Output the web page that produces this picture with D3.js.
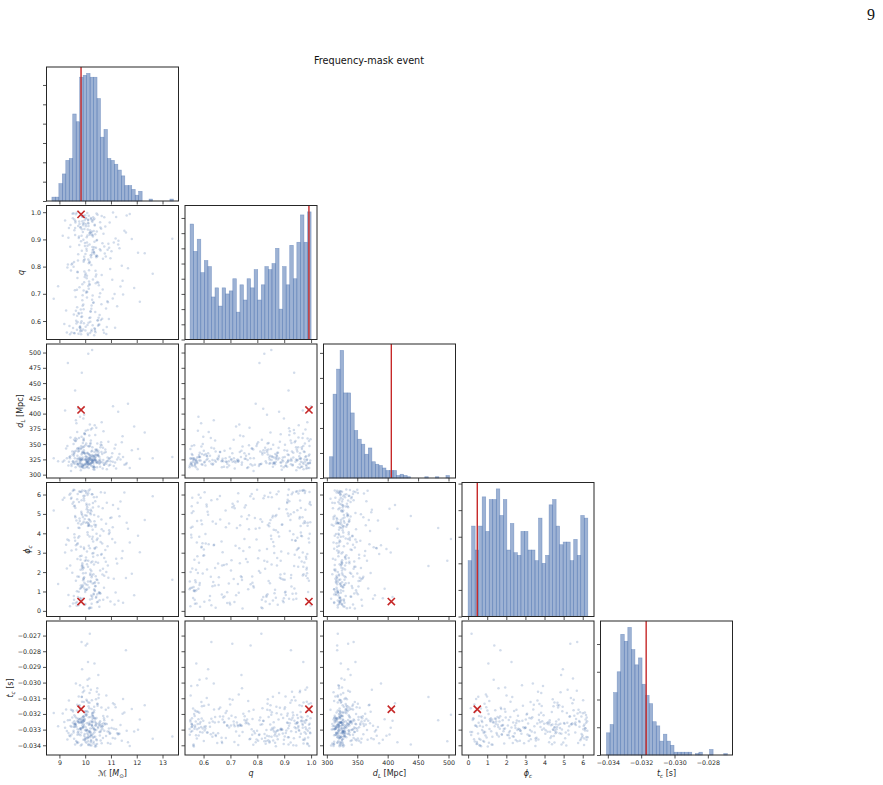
<!DOCTYPE html>
<html><head><meta charset="utf-8">
<script src="https://cdn.jsdelivr.net/npm/d3@7/dist/d3.min.js"></script>
<style>body{margin:0;background:#fff}</style>
</head><body>
<svg id="c" width="883" height="785"></svg>
<script>
// ---------------- DATA ----------------
const paramNames = ["Mc", "q", "dL", "phi", "tc"];
const truthValues = [9.84, 0.992, 406, 0.48, -0.0317];

// histogram counts
const mcCounts  = [2,2,9,14,21,22,45,41,64,65,66,64,64,53,33,37,22,21,19,16,13,8,8,6,3,5,0,0,1,0,0,0,0,0,1];
const qCounts   = [38,29,33,22,26,24,14,17,11,17,15,16,20,9,18,13,20,17,23,13,18,24,23,25,30,10,24,18,31,20,32,41,32,42];
const dlCounts  = [17,67,87,102,68,68,52,38,31,27,19,24,13,11,10,8,6,6,6,2,3,2,1,0,0,0,0,1,0,0,1,0,0,2];
const phiCounts = [21,34,25,34,45,32,44,44,48,38,44,25,35,24,23,32,32,25,25,21,37,20,23,42,44,34,27,28,28,21,29,23,38,37];
const tcCounts  = [16,22,45,60,87,82,92,76,65,70,51,43,37,24,21,10,15,10,7,2,2,2,2,2,0,1,2,0,0,4,0,0,0,1];
// [first bin edge, bin width]
const mcBins  = [8.71, 0.1346];
const qBins   = [0.55, 0.013235];
const dlBins  = [304.4, 5.8];
const phiBins = [0.0, 0.18426];
const tcBins  = [-0.03408, 0.0002132];

// posterior samples (estimated from the scatter panels)
const mcS = [
10.12,9.87,10.45,9.63,10.28,11.05,9.94,10.61,9.42,10.19,
10.33,9.78,10.02,10.87,9.55,10.24,11.42,9.91,10.38,9.71,
10.07,10.52,9.83,9.29,10.16,10.74,9.98,10.31,11.18,9.66,
10.41,9.89,10.09,12.05,9.74,10.22,10.58,9.51,10.35,9.96,
9.13,10.27,10.93,9.82,10.04,10.47,9.69,11.29,10.14,9.92,
10.36,9.58,10.68,10.01,9.86,11.61,10.25,9.77,10.43,9.35,
10.11,10.82,9.95,10.29,9.61,10.55,10.06,9.89,11.08,10.39,
9.47,10.18,9.81,10.64,10.32,8.78,9.99,10.49,9.73,10.21,
11.37,9.9,10.13,10.57,9.64,10.26,9.84,10.97,10.03,9.57,
10.44,9.79,10.15,11.73,9.93,10.34,10.71,9.68,10.08,9.22,
10.23,9.85,10.62,9.97,10.4,9.52,11.14,10.17,9.76,10.3,
9.88,10.51,10.05,9.39,10.37,10.86,9.94,10.2,11.52,9.7,
10.1,10.46,9.6,10.28,9.83,12.31,10.0,10.66,9.45,10.19,
10.35,9.92,10.78,10.12,9.67,11.24,10.42,9.8,10.06,9.31,
10.56,9.96,10.24,9.74,10.9,10.14,9.58,10.33,11.02,9.87,
10.02,10.48,9.19,10.27,9.9,10.69,10.38,9.62,11.45,10.09,
9.81,10.21,10.6,9.53,10.31,9.98,11.81,10.16,9.72,10.44,
10.07,9.86,10.73,10.25,9.43,10.53,9.95,11.11,10.36,9.69,
10.18,9.77,10.04,10.84,9.91,10.29,9.56,10.64,12.62,10.11,
9.84,10.41,10.13,9.65,10.98,10.22,9.89,11.33,10.01,9.37,
10.3,9.75,10.5,10.08,9.94,10.76,9.26,10.19,11.66,9.82,
10.26,10.63,9.99,9.59,10.39,10.15,11.2,9.88,10.47,10.03,
9.71,10.34,8.95,10.11,10.81,9.93,10.24,9.5,10.58,11.47,
10.17,9.8,10.43,10.06,9.64,10.92,10.28,9.97,11.07,10.12,
9.41,10.37,10.0,10.67,9.86,10.23,11.9,9.73,10.52,10.09,
10.32,9.9,10.14,9.55,10.7,10.45,9.96,11.28,10.2,9.78,
10.05,10.59,9.83,10.27,9.62,10.88,10.16,9.47,13.38,10.4,
9.92,10.21,10.74,9.68,10.1,11.16,10.35,9.85,10.55,9.33,
10.29,9.76,10.07,10.95,9.94,10.42,9.57,11.58,10.18,10.02,
9.87,10.48,10.13,9.7,10.36,12.12,9.98,10.25,10.8,9.61];
const qS = [
0.972,0.563,0.841,0.688,0.915,0.752,0.987,0.604,0.873,0.556,
0.931,0.724,0.579,0.862,0.996,0.645,0.803,0.958,0.571,0.779,
0.889,0.612,0.945,0.558,0.736,0.981,0.827,0.667,0.903,0.591,
0.764,0.967,0.585,0.851,0.629,0.924,0.702,0.994,0.548,0.836,
0.913,0.678,0.869,0.566,0.977,0.743,0.619,0.895,0.812,0.952,
0.573,0.934,0.716,0.846,0.599,0.988,0.657,0.879,0.771,0.906,
0.961,0.552,0.823,0.694,0.942,0.587,0.858,0.735,0.999,0.633,
0.808,0.917,0.561,0.769,0.972,0.682,0.887,0.603,0.949,0.842,
0.727,0.983,0.594,0.864,0.638,0.928,0.551,0.791,0.956,0.817,
0.896,0.576,0.745,0.993,0.661,0.853,0.921,0.568,0.707,0.969,
0.834,0.615,0.939,0.782,0.559,0.978,0.699,0.881,0.627,0.911,
0.984,0.741,0.866,0.582,0.954,0.673,0.818,0.597,0.932,0.758,
0.554,0.898,0.713,0.965,0.642,0.849,0.989,0.608,0.786,0.926,
0.871,0.569,0.947,0.729,0.998,0.654,0.839,0.581,0.908,0.797,
0.622,0.959,0.806,0.553,0.884,0.719,0.973,0.668,0.856,0.937,
0.775,0.991,0.589,0.918,0.695,0.829,0.564,0.962,0.748,0.877,
0.944,0.636,0.859,0.574,0.981,0.762,0.901,0.611,0.822,0.995,
0.686,0.913,0.557,0.844,0.953,0.731,0.592,0.889,0.976,0.651,
0.815,0.966,0.704,0.578,0.927,0.861,0.624,0.986,0.774,0.549,
0.893,0.739,0.958,0.601,0.831,0.979,0.676,0.867,0.565,0.942,
0.753,0.905,0.583,0.997,0.712,0.848,0.639,0.934,0.794,0.572,
0.969,0.662,0.876,0.555,0.919,0.787,0.982,0.617,0.838,0.948,
0.596,0.854,0.728,0.971,0.646,0.899,0.562,0.811,0.963,0.697,
0.923,0.577,0.834,0.757,0.992,0.607,0.872,0.938,0.683,0.826,
0.551,0.951,0.769,0.886,0.629,0.975,0.721,0.845,0.586,0.914,
0.863,0.656,0.987,0.799,0.567,0.929,0.742,0.881,0.613,0.957,
0.708,0.944,0.593,0.852,0.968,0.669,0.819,0.558,0.902,0.785,
0.985,0.634,0.874,0.715,0.936,0.575,0.847,0.994,0.688,0.808,
0.584,0.911,0.766,0.962,0.643,0.869,0.556,0.925,0.733,0.979,
0.858,0.602,0.949,0.781,0.891,0.671,0.97,0.568,0.837,0.916];
const dlS = [
318,326,341,312,324,335,359,321,330,347,
315,323,372,328,319,338,353,311,325,343,
320,331,307,327,364,316,336,322,349,384,
324,313,329,342,318,356,325,333,312,398,
321,339,326,314,351,320,370,328,317,345,
323,336,310,325,362,319,331,344,377,315,
326,318,340,322,355,329,313,337,412,324,
317,332,321,348,309,327,366,320,338,352,
325,314,334,319,389,323,342,316,330,357,
322,328,346,311,337,324,371,318,335,405,
319,326,353,315,332,321,343,327,360,313,
324,339,317,329,381,322,336,350,316,331,
320,312,327,345,323,369,318,334,306,326,
328,316,341,321,358,325,333,395,319,347,
322,335,314,326,354,320,338,312,329,467,
317,331,323,376,315,344,327,321,363,336,
325,318,349,322,330,311,340,324,408,319,
321,333,316,328,361,323,346,314,337,326,
318,342,325,309,352,320,331,386,327,315,
324,329,317,339,322,374,313,334,348,321,
326,314,332,323,357,319,343,328,416,312,
320,337,325,318,365,327,310,335,351,323,
316,330,322,347,321,392,324,338,313,329,
323,319,340,326,355,315,332,368,321,498,
327,312,334,320,344,325,379,318,336,322,
319,328,311,350,324,338,316,403,330,326,
321,345,317,504,360,323,333,314,329,341,
325,316,336,322,373,320,331,347,318,483,
323,339,312,327,356,321,334,317,382,329,
318,332,324,343,308,326,367,320,337,438];
const phiS = [
4.52,1.23,5.87,0.41,2.96,3.71,1.68,6.12,2.34,5.05,
0.88,4.27,1.95,3.33,5.61,0.16,2.71,4.84,1.47,6.03,
3.06,5.38,0.63,2.19,4.41,1.81,5.94,3.58,0.95,4.66,
2.52,6.21,1.34,3.87,0.29,4.98,2.08,5.52,1.12,3.19,
5.73,0.74,4.16,2.63,6.08,1.59,3.44,0.52,4.73,2.27,
1.06,3.95,5.29,0.35,2.84,4.55,1.73,6.15,3.28,0.82,
4.38,2.01,5.81,1.41,3.62,0.21,4.91,2.46,5.46,1.27,
3.11,6.26,0.67,4.21,1.89,5.17,2.58,0.47,3.77,1.54,
5.64,2.13,4.47,0.91,3.39,6.02,1.18,4.79,2.75,0.58,
1.62,4.63,0.12,3.52,5.93,2.39,4.12,1.01,5.35,3.01,
0.79,5.11,2.89,1.45,4.34,6.18,0.33,3.83,1.76,5.56,
2.22,4.87,1.09,5.99,3.24,0.69,4.59,1.93,6.11,2.67,
3.92,0.44,5.42,2.55,1.31,4.69,0.97,3.47,5.78,1.85,
4.95,1.58,3.14,6.07,0.26,2.44,4.43,1.14,5.24,3.68,
0.55,5.69,2.05,4.29,1.71,3.36,6.23,0.84,4.81,2.31,
1.37,3.73,5.84,0.62,4.51,2.17,1.03,5.31,3.09,4.06,
6.14,1.49,3.55,0.38,2.79,4.74,1.91,5.49,0.71,3.98,
2.41,5.02,1.19,4.36,6.05,0.93,3.27,1.66,4.62,5.76,
0.18,3.85,2.61,5.58,1.26,4.18,0.77,2.93,5.91,1.52,
4.46,1.79,6.19,3.17,0.48,5.21,2.36,4.88,1.07,3.63,
5.33,0.99,2.48,4.57,1.64,6.09,3.41,0.59,4.24,2.12,
1.83,4.71,0.31,3.79,5.65,1.21,2.69,4.96,0.86,6.17,
3.49,5.86,1.39,2.27,4.49,0.65,5.14,1.97,3.88,0.42,
4.68,2.82,0.73,5.45,1.55,3.97,6.01,1.16,4.31,2.58,
0.24,3.21,4.93,1.87,5.71,2.49,0.81,4.52,1.44,5.97,
2.99,1.33,4.39,6.24,0.57,3.66,1.74,5.27,2.14,4.77,
5.53,0.89,3.31,3.71,4.83,2.34,0.14,5.83,1.61,1.28,
1.94,4.61,2.73,0.46,5.08,3.53,1.42,6.13,0.96,4.27,
3.82,5.62,1.11,4.04,2.21,0.68,5.39,1.69,3.23,4.54,
0.53,2.87,5.19,1.77,4.44,3.02,6.2,0.37,2.53,4.89];
const tcS = [
-0.03127,-0.03395,-0.03368,-0.03276,-0.03291,-0.03238,-0.03215,-0.03305,-0.03342,-0.03263,
-0.03224,-0.03255,-0.03186,-0.03312,-0.03318,-0.03334,-0.03371,-0.03061,-0.03249,-0.03297,
-0.03203,-0.03099,-0.03401,-0.03309,-0.03267,-0.03241,-0.03328,-0.03352,-0.03158,-0.03284,
-0.03258,-0.03222,-0.02982,-0.03301,-0.03231,-0.03382,-0.03273,-0.03176,-0.03296,-0.03339,
-0.03197,-0.03252,-0.03313,-0.03294,-0.03356,-0.03036,-0.03142,-0.03325,-0.03269,-0.03287,
-0.02878,-0.03209,-0.03279,-0.03376,-0.03244,-0.03307,-0.03168,-0.03236,-0.03362,-0.03322,
-0.03188,-0.03083,-0.03245,-0.03229,-0.03261,-0.03316,-0.03299,-0.03274,-0.03132,-0.03345,
-0.03331,-0.03348,-0.03166,-0.03266,-0.03389,-0.03194,-0.03303,-0.03282,-0.03253,-0.03219,
-0.03271,-0.03239,-0.03151,-0.03337,-0.03005,-0.03112,-0.03248,-0.03323,-0.03308,-0.03359,
-0.03226,-0.03298,-0.03315,-0.03404,-0.03217,-0.03346,-0.03259,-0.03178,-0.02752,-0.03288,
-0.03372,-0.03319,-0.03285,-0.03233,-0.03272,-0.03256,-0.03139,-0.03067,-0.03329,-0.03212,
-0.03122,-0.02951,-0.03384,-0.03338,-0.03302,-0.03216,-0.03265,-0.03293,-0.03191,-0.03247,
-0.03022,-0.03392,-0.03268,-0.03242,-0.03254,-0.03144,-0.03351,-0.03279,-0.03173,-0.03311,
-0.03154,-0.03283,-0.03261,-0.03398,-0.03228,-0.03324,-0.03106,-0.03234,-0.03306,-0.03363,
-0.03257,-0.03052,-0.03335,-0.03314,-0.03161,-0.03221,-0.03246,-0.03377,-0.03289,-0.03092,
-0.02763,-0.03137,-0.03251,-0.03275,-0.03286,-0.03354,-0.03408,-0.03218,-0.03199,-0.03304,
-0.03292,-0.03321,-0.03369,-0.03184,-0.03327,-0.03235,-0.03169,-0.02974,-0.03243,-0.03262,
-0.03181,-0.03258,-0.03227,-0.03343,-0.03277,-0.03076,-0.03124,-0.03295,-0.03317,-0.03386,
-0.02688,-0.03149,-0.03211,-0.03264,-0.03237,-0.03253,-0.03281,-0.03387,-0.03358,-0.03333,
-0.03301,-0.03274,-0.03347,-0.03373,-0.03391,-0.03045,-0.03255,-0.03326,-0.03201,-0.03115,
-0.03214,-0.03088,-0.03289,-0.03323,-0.03249,-0.03267,-0.03171,-0.03399,-0.03381,-0.03336,
-0.03271,-0.03159,-0.03361,-0.03284,-0.03232,-0.03311,-0.03297,-0.02915,-0.03135,-0.03206,
-0.03319,-0.03189,-0.03278,-0.02869,-0.03341,-0.03365,-0.03402,-0.03222,-0.03246,-0.03104,
-0.03128,-0.03017,-0.03302,-0.03259,-0.03269,-0.03293,-0.03196,-0.03244,-0.03353,-0.03375,
-0.03239,-0.03226,-0.03183,-0.03296,-0.02741,-0.03366,-0.03312,-0.03383,-0.03262,-0.03349,
-0.03287,-0.03251,-0.03394,-0.03307,-0.03213,-0.03058,-0.03276,-0.03331,-0.03318,-0.03145,
-0.03109,-0.03315,-0.03229,-0.03205,-0.03263,-0.03385,-0.03164,-0.03282,-0.03344,-0.03397,
-0.03031,-0.03248,-0.03308,-0.03379,-0.03355,-0.03357,-0.03177,-0.03291,-0.03272,-0.03241,
-0.03192,-0.03254,-0.03118,-0.03326,-0.03219,-0.03406,-0.03266,-0.02794,-0.03339,-0.03285,
-0.03091,-0.03147,-0.03257,-0.03332,-0.03299,-0.03235,-0.03364,-0.03273,-0.03174,-0.03395];

// tick values
const xTickVals = [[9,10,11,12,13],[0.6,0.7,0.8,0.9,1.0],[300,350,400,450,500],[0,1,2,3,4,5,6],[-0.034,-0.032,-0.030,-0.028]];
const yTickVals = [null,[0.6,0.7,0.8,0.9,1.0],[300,325,350,375,400,425,450,475,500],[0,1,2,3,4,5,6],[-0.034,-0.033,-0.032,-0.031,-0.030,-0.029,-0.028,-0.027]];
const histTickStep = [10,5,20,10,20];
const titleText = "Frequency-mask event";
const pageNumber = "9";

// ---------------- LAYOUT ----------------
const samples = [mcS, qS, dlS, phiS, tcS];
const counts = [mcCounts, qCounts, dlCounts, phiCounts, tcCounts];
const bins = [mcBins, qBins, dlBins, phiBins, tcBins];
const xDom = [[8.5,13.62],[0.531,1.022],[294.5,511.5],[-0.32,6.59],[-0.03444,-0.02652]];
const yDom = [null,[0.532,1.0246],[294.5,514],[-0.29,6.62],[-0.03462,-0.02607]];
const fmts = [d3.format("d"), d3.format(".1f"), d3.format("d"), d3.format("d"), d3.format(".3f")];
const yLabelX = [0, 24, 23, 30, 13];

const L0 = 46.5, T0 = 67, STEP = 138.5, PW = 132, PH = 134;
const FONT = "DejaVu Sans";
const BLUE = "#4c72b0", RED = "#c62828", INK = "#262626";

const svg = d3.select("#c");
svg.append("rect").attr("width",883).attr("height",785).attr("fill","#fff");

const xs = xDom.map((d,k) => d3.scaleLinear().domain(d).range([L0+k*STEP, L0+k*STEP+PW]));
const ys = yDom.map((d,k) => d ? d3.scaleLinear().domain(d).range([T0+k*STEP+PH, T0+k*STEP]) : null);

function styleAxis(g, showLabels) {
  g.select(".domain").remove();
  g.selectAll(".tick line").attr("stroke", INK).attr("stroke-width", 0.8);
  g.selectAll(".tick text").attr("fill", INK).style("font-family", FONT).style("font-size", "6.3px");
  if (!showLabels) g.selectAll(".tick text").remove();
}

function frame(i, j) {
  svg.append("rect").attr("x", L0+j*STEP).attr("y", T0+i*STEP).attr("width", PW).attr("height", PH)
    .attr("fill","none").attr("stroke", INK).attr("stroke-width", 1);
}

function xAxis(i, j) {
  const g = svg.append("g").attr("transform", `translate(0,${T0+i*STEP+PH})`)
    .call(d3.axisBottom(xs[j]).tickValues(xTickVals[j]).tickFormat(fmts[j]).tickSize(3.5).tickPadding(2));
  styleAxis(g, i === 4);
}

function yAxisScatter(i, j) {
  const g = svg.append("g").attr("transform", `translate(${L0+j*STEP},0)`)
    .call(d3.axisLeft(ys[i]).tickValues(yTickVals[i]).tickFormat(fmts[i]).tickSize(3.5).tickPadding(2));
  styleAxis(g, j === 0);
}

// label builder for math-like text
const labelParts = [
  [{t:"ℳ"},{t:" ["},{t:"M",i:1},{t:"⊙",sub:1},{t:"]"}],
  [{t:"q",i:1}],
  [{t:"d",i:1},{t:"L",i:1,sub:1},{t:" [Mpc]"}],
  [{t:"ϕ",i:1},{t:"c",i:1,sub:1}],
  [{t:"t",i:1},{t:"c",i:1,sub:1},{t:" [s]"}]
];
function addLabel(x, y, k, rotate) {
  const fs = 8;
  const t = svg.append("text").attr("text-anchor","middle").style("font-family", FONT)
    .style("font-size", fs+"px").attr("fill", INK)
    .attr("transform", rotate ? `translate(${x},${y}) rotate(-90)` : `translate(${x},${y})`);
  let shifted = false;
  labelParts[k].forEach(p => {
    const ts = t.append("tspan").text(p.t);
    if (p.i) ts.style("font-style","italic");
    if (p.sub) { ts.style("font-size", (fs*0.7)+"px"); if (!shifted) { ts.attr("dy", fs*0.25); shifted = true; } }
    else if (shifted) { ts.attr("dy", -fs*0.25); shifted = false; }
  });
}

// ---------------- DRAW ----------------
for (let i = 0; i < 5; i++) {
  for (let j = 0; j <= i; j++) {
    if (i === j) {
      const c = counts[i], b = bins[i];
      const maxC = d3.max(c);
      const yh = d3.scaleLinear().domain([0, maxC*1.05]).range([T0+i*STEP+PH, T0+i*STEP]);
      const barData = c.map((v, idx) => ({x0: b[0] + idx*b[1], x1: b[0] + (idx+1)*b[1], v})).filter(d => d.v > 0);
      svg.append("g").selectAll("rect").data(barData).join("rect")
        .attr("x", d => xs[i](d.x0)).attr("width", d => xs[i](d.x1) - xs[i](d.x0))
        .attr("y", d => yh(d.v)).attr("height", d => yh(0) - yh(d.v))
        .attr("fill", BLUE).attr("fill-opacity", 0.55)
        .attr("stroke", BLUE).attr("stroke-opacity", 0.55).attr("stroke-width", 0.6);
      svg.append("line").attr("x1", xs[i](truthValues[i])).attr("x2", xs[i](truthValues[i]))
        .attr("y1", T0+i*STEP).attr("y2", T0+i*STEP+PH).attr("stroke", RED).attr("stroke-width", 1.4);
      const hticks = d3.range(0, maxC*1.05, histTickStep[i]);
      const g = svg.append("g").attr("transform", `translate(${L0+i*STEP},0)`)
        .call(d3.axisLeft(yh).tickValues(hticks).tickSize(3.5));
      styleAxis(g, false);
      xAxis(i, j);
      frame(i, j);
    } else {
      const pts = samples[j].map((v, idx) => [v, samples[i][idx]]);
      svg.append("g").selectAll("circle").data(pts).join("circle")
        .attr("cx", d => xs[j](d[0])).attr("cy", d => ys[i](d[1])).attr("r", 1.25)
        .attr("fill", BLUE).attr("fill-opacity", 0.25);
      const tx = xs[j](truthValues[j]), ty = ys[i](truthValues[i]), s = 3.6;
      svg.append("path").attr("d", `M${tx-s},${ty-s}L${tx+s},${ty+s}M${tx-s},${ty+s}L${tx+s},${ty-s}`)
        .attr("stroke", RED).attr("stroke-width", 1.6).attr("fill","none");
      xAxis(i, j);
      yAxisScatter(i, j);
      frame(i, j);
    }
  }
}

// axis labels
for (let k = 0; k < 5; k++) addLabel(L0 + k*STEP + PW/2, 776, k, false);
for (let k = 1; k < 5; k++) addLabel(yLabelX[k], T0 + k*STEP + PH/2, k, true);

svg.append("text").attr("x", 369).attr("y", 63.5).attr("text-anchor","middle")
  .style("font-family", FONT).style("font-size","9.7px").attr("fill","#111").text(titleText);
svg.append("text").attr("x", 871).attr("y", 20).attr("text-anchor","middle")
  .style("font-family","Liberation Serif").style("font-size","16px").attr("fill","#111").text(pageNumber);
</script>
</body></html>
